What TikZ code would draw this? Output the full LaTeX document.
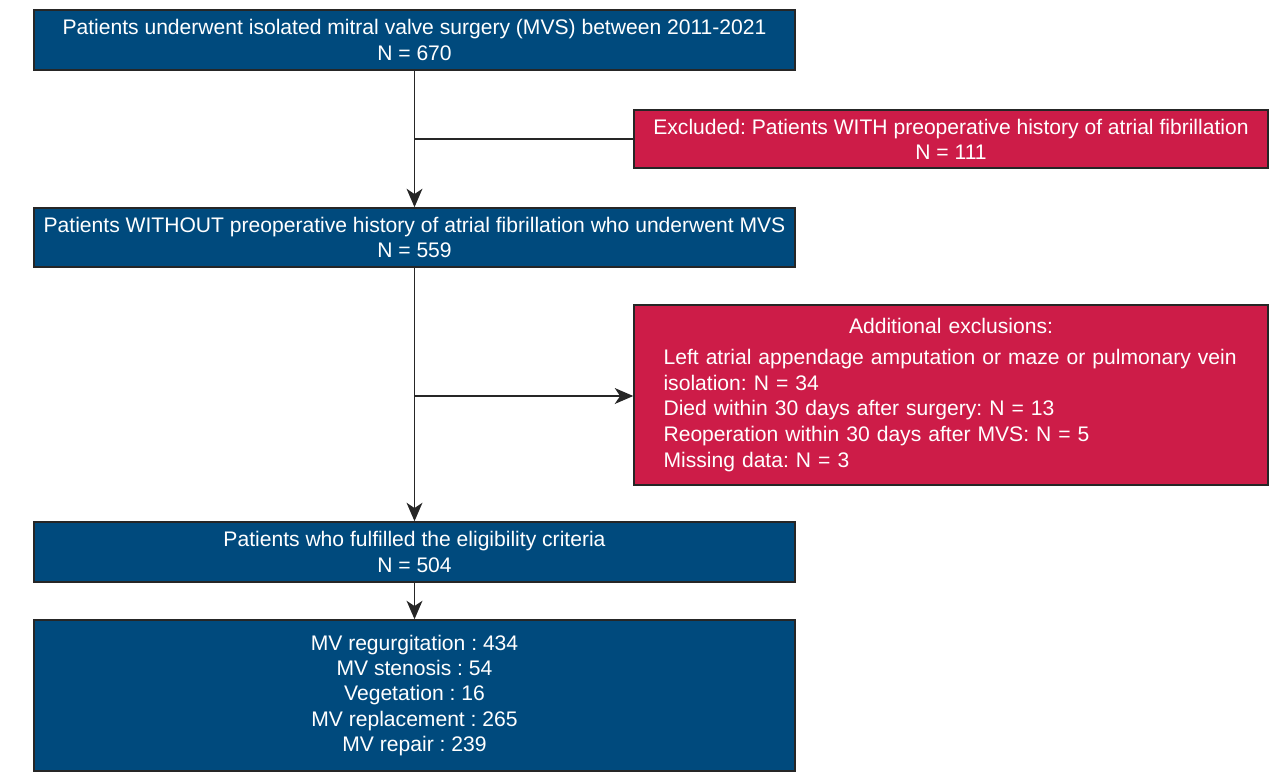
\documentclass[tikz,border=0pt]{standalone}
\usepackage{fontspec}
\setmainfont{Liberation Sans}
\usepackage{tikz}
\usetikzlibrary{arrows.meta}

\definecolor{flowblue}{RGB}{0,74,125}
\definecolor{flowred}{RGB}{205,28,72}

\tikzset{
  bluebox/.style={draw=black!85, line width=0.9pt, fill=flowblue, text=white,
    minimum width=15.22cm, align=center, inner sep=0pt},
  redbox/.style={draw=black!85, line width=0.9pt, fill=flowred, text=white,
    minimum width=12.68cm, inner sep=0pt},
  flow/.style={draw=black!85, line width=1pt},
  flowarrow/.style={flow, -{Stealth[length=10.5pt,width=9pt,inset=3pt]}}
}

\begin{document}
\frenchspacing
\begin{tikzpicture}[x=0.02cm, y=-0.02cm, font=\fontsize{12}{14.3}\selectfont]
\useasboundingbox (0,0) rectangle (1271,772);

\node[bluebox, minimum height=1.2cm] (total) at (414.5,40)
  {Patients underwent isolated mitral valve surgery (MVS) between 2011-2021\\N = 670};
\node[redbox, minimum height=1.16cm, align=center] (excl) at (951,139)
  {Excluded: Patients WITH preoperative history of atrial fibrillation\\N = 111};
\node[bluebox, minimum height=1.18cm] (noaf) at (414.5,237.5)
  {Patients WITHOUT preoperative history of atrial fibrillation who underwent MVS\\N = 559};
\node[redbox, minimum height=3.6cm, text width=11.5cm, inner xsep=0.59cm, align=left,
  font=\fontsize{12}{14.6}\selectfont] (addexcl) at (951,395)
  {\makebox[11.5cm]{Additional exclusions:}\\[3pt]
   Left atrial appendage amputation or maze or pulmonary vein\\
   isolation: N = 34\\
   Died within 30 days after surgery: N = 13\\
   Reoperation within 30 days after MVS: N = 5\\
   Missing data: N = 3};
\node[bluebox, minimum height=1.2cm] (elig) at (414.5,552)
  {Patients who fulfilled the eligibility criteria\\N = 504};
\node[bluebox, minimum height=3.02cm] (result) at (414.5,695.5)
  {MV regurgitation : 434\\MV stenosis : 54\\Vegetation : 16\\MV replacement : 265\\MV repair : 239};

\coordinate (split1) at (414.5,139);
\coordinate (split2) at (414.5,396);

\path[flowarrow] (total) -- (noaf);
\path[flow] (split1) -- (split1 -| excl.west);
\path[flowarrow] (noaf) -- (elig);
\path[flowarrow] (split2) -- (split2 -| addexcl.west);
\path[flowarrow] (elig) -- (result);
\end{tikzpicture}
\end{document}
